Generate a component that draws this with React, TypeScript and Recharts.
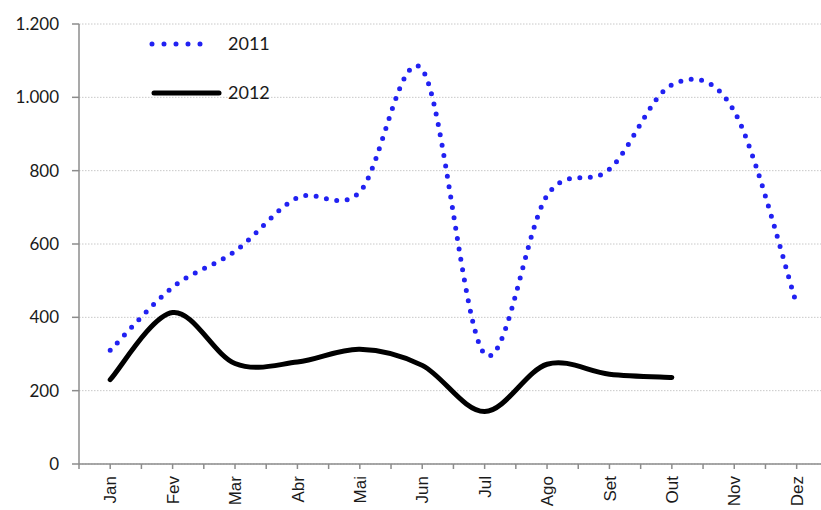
import React from 'react';
import { LineChart, Line, XAxis, YAxis, CartesianGrid } from 'recharts';

const months = ['Jan', 'Fev', 'Mar', 'Abr', 'Mai', 'Jun', 'Jul', 'Ago', 'Set', 'Out', 'Nov', 'Dez'];
const values2011 = [310, 482, 580, 726, 742, 1076, 300, 732, 804, 1034, 962, 436];
const values2012: (number | null)[] = [230, 413, 274, 278, 313, 269, 143, 272, 245, 236, null, null];
const yTicks = [0, 200, 400, 600, 800, 1000, 1200];
const seriesNames = ['2011', '2012'];

const data = months.map((m, i) => ({ idx: i, month: m, y2011: values2011[i], y2012: values2012[i] }));
const xTicks: number[] = [];
for (let t = -0.5; t <= 11.01; t += 0.5) xTicks.push(t);

// Excel-like smoothing (Catmull-Rom / cardinal with tension 0)
function excelCurve(context: any) {
  let pts: [number, number][] = [];
  return {
    areaStart() {},
    areaEnd() {},
    lineStart() {
      pts = [];
    },
    lineEnd() {
      const n = pts.length;
      if (n === 0) return;
      context.moveTo(pts[0][0], pts[0][1]);
      if (n === 1) {
        context.lineTo(pts[0][0], pts[0][1]);
        return;
      }
      for (let i = 0; i < n - 1; i++) {
        const p0 = pts[i - 1] || pts[i];
        const p1 = pts[i];
        const p2 = pts[i + 1];
        const p3 = pts[i + 2] || p2;
        const c1x = p1[0] + (p2[0] - p0[0]) / 6;
        const c1y = p1[1] + (p2[1] - p0[1]) / 6;
        const c2x = p2[0] - (p3[0] - p1[0]) / 6;
        const c2y = p2[1] - (p3[1] - p1[1]) / 6;
        context.bezierCurveTo(c1x, c1y, c2x, c2y, p2[0], p2[1]);
      }
    },
    point(x: number, y: number) {
      pts.push([+x, +y]);
    },
  };
}

const fmt = (v: number) => (v >= 1000 ? `${Math.floor(v / 1000)}.${String(v % 1000).padStart(3, '0')}` : String(v));

const XTick = (props: any) => {
  const { x, y, payload } = props;
  const v = payload.value;
  if (Math.abs(v - Math.round(v)) > 0.01) return null;
  const label = months[Math.round(v)];
  if (!label) return null;
  return (
    <text
      x={x}
      y={y}
      dy="0.36em"
      transform={`rotate(-90, ${x}, ${y})`}
      textAnchor="end"
      fontFamily="'Liberation Sans', Arial, sans-serif"
      fontSize={17}
      fill="#1a1a1a"
    >
      {label}
    </text>
  );
};

const LegendOverlay = () => (
  <svg width={160} height={90} style={{ position: 'absolute', left: 140, top: 25 }}>
    <line x1={12} y1={19} x2={72} y2={19} stroke="#2121f2" strokeWidth={5} strokeLinecap="round" strokeDasharray="0 12" />
    <text x={88} y={19} dy="0.36em" fontFamily="Lato, sans-serif" fontSize={18} fill="#1a1a1a">{seriesNames[0]}</text>
    <line x1={14} y1={68} x2={79} y2={68} stroke="#000" strokeWidth={5} strokeLinecap="round" />
    <text x={88} y={68} dy="0.36em" fontFamily="Lato, sans-serif" fontSize={18} fill="#1a1a1a">{seriesNames[1]}</text>
  </svg>
);

export default function App() {
  return (
    <div style={{ position: 'absolute', left: 0, top: 0, width: 821, height: 510, background: '#fff' }}>
      <LineChart width={821} height={510} data={data} margin={{ top: 24, right: 0, bottom: 0, left: 0 }}>
        <CartesianGrid vertical={false} stroke="#c8c8c8" strokeDasharray="1.5 1.5" />
        <XAxis
          dataKey="idx"
          type="number"
          domain={[-0.5, 11.39]}
          allowDataOverflow
          ticks={xTicks}
          interval={0}
          height={46}
          tickSize={5}
          tickMargin={7}
          tick={<XTick />}
          axisLine={{ stroke: '#8c8c8c', strokeWidth: 1.5 }}
          tickLine={{ stroke: '#8c8c8c', strokeWidth: 1.5 }}
        />
        <YAxis
          domain={[0, 1200]}
          ticks={yTicks}
          interval={0}
          width={79}
          tickSize={7}
          tickMargin={13}
          tickFormatter={fmt}
          tick={{ fontFamily: 'Lato, sans-serif', fontSize: 17, fill: '#1a1a1a' }}
          axisLine={{ stroke: '#8c8c8c', strokeWidth: 1.5 }}
          tickLine={{ stroke: '#8c8c8c', strokeWidth: 1.5 }}
        />
        <Line
          dataKey="y2011"
          name={seriesNames[0]}
          type={excelCurve as any}
          stroke="#2121f2"
          strokeWidth={5}
          strokeLinecap="round"
          strokeDasharray="0 10.5"
          dot={false}
          activeDot={false}
          isAnimationActive={false}
        />
        <Line
          dataKey="y2012"
          name={seriesNames[1]}
          type={excelCurve as any}
          stroke="#000"
          strokeWidth={5}
          strokeLinecap="round"
          dot={false}
          activeDot={false}
          isAnimationActive={false}
        />
      </LineChart>
      <LegendOverlay />
    </div>
  );
}
